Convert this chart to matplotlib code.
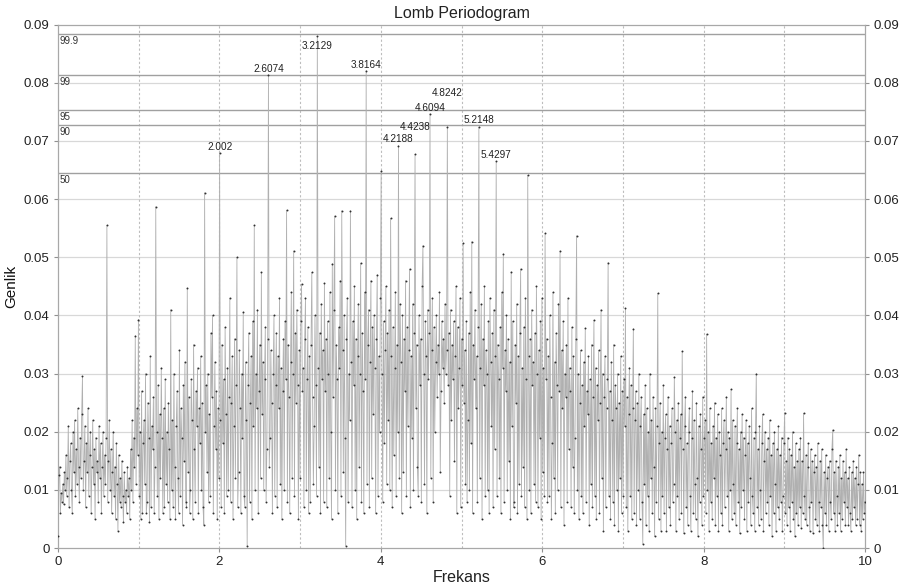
import numpy as np
import matplotlib
matplotlib.use('Agg')
import matplotlib.pyplot as plt

plt.rcParams['font.family'] = ['Liberation Sans', 'DejaVu Sans']

# Lomb periodogram amplitudes (x 1e-3), one value per frequency step of 1/102.4
amp_milli = [
    2, 12.5, 14, 6, 9.5, 8, 11, 7.5, 13, 10,
    16, 9, 12, 21, 7, 15, 18, 10, 6, 20,
    13, 22, 9, 17, 11, 24, 14, 8, 19, 12,
    23, 29.5, 10, 15, 21, 7, 18, 13, 24, 9,
    16, 20, 6, 14, 22, 11, 17, 5, 19, 13,
    15, 8, 21, 12, 18, 6, 14, 20, 9, 16,
    11, 19, 55.5, 8, 15, 22, 10, 17, 6, 13,
    20, 9, 14, 5, 18, 11, 3, 16, 8, 12,
    7, 15, 9, 4.5, 13, 8, 10, 6, 14, 9,
    12, 5, 17, 10, 22, 8, 19, 14, 36.5, 11,
    24, 16, 39.3, 9, 20, 5, 27, 6, 18, 22,
    11, 30, 6, 8, 25, 19, 4.5, 33, 7, 21,
    17, 26, 6, 14, 58.7, 20, 9, 28, 5, 23,
    12, 31, 19, 6, 24, 7, 29, 11, 20, 8,
    25, 17, 5, 41, 10, 22, 7, 30, 14, 5,
    21, 27, 12, 6, 34, 9, 24, 19, 4, 28,
    15, 32, 8, 7, 44.7, 13, 26, 6, 10, 29,
    22, 5, 35, 17, 8, 27, 21, 31, 6, 24,
    18, 33, 10, 25, 7, 4, 61.1, 20, 28, 13,
    30, 8, 23, 9, 37, 26, 40, 6, 21, 32,
    17, 27, 5, 24, 12, 68.0, 22, 7, 35, 18,
    29, 6, 38, 23, 9, 31, 10, 26, 43, 8,
    25, 33, 5, 21, 36, 12, 28, 50, 7, 13,
    34, 24, 6, 30, 19, 40.6, 9, 7, 32, 22,
    0.4, 28, 37, 8, 25, 33, 5, 39, 21, 55.5,
    10, 30, 24, 41, 6, 27, 35, 12, 47.4, 23,
    32, 10, 29, 38, 8, 17, 36, 81.4, 14, 19,
    34, 25, 6, 30, 40, 9, 28, 37, 7, 33,
    24, 43, 11, 31, 5, 27, 36, 10, 39, 29,
    58.1, 8, 35, 26, 6, 32, 44, 12, 30, 51.1,
    9, 37, 25, 41, 28, 5, 34, 12, 39, 45.4,
    27, 31, 7, 36, 43, 10, 29, 38, 6, 33,
    8, 35, 47.4, 26, 11, 21, 40, 28, 9, 88.0,
    31, 14, 37, 6, 42, 29, 34, 8, 45.5, 27,
    36, 7, 39, 30, 12, 44, 20, 5, 48.9, 26,
    41, 57.1, 10, 35, 29, 6, 38, 31, 46, 9,
    58, 34, 13, 40, 19, 0.4, 36, 43, 8, 30,
    22, 58, 32, 7, 39, 28, 45, 10, 36, 5,
    33, 42, 14, 30, 49, 8, 37, 27, 6, 44,
    29, 82.1, 11, 35, 41, 7, 32, 46, 12, 38,
    23, 40, 31, 6, 36, 47, 9, 33, 20, 43,
    64.8, 30, 8, 39, 18, 34, 45, 11, 37, 22,
    41, 10, 56.7, 33, 7, 38, 16, 31, 44, 9,
    35, 20, 69.2, 12, 42, 32, 6, 40, 13, 36,
    27, 46, 9, 38, 21, 34, 48, 7, 33, 19,
    42, 10, 37, 67.7, 24, 35, 14, 9, 40, 28,
    36, 8, 45, 52, 30, 11, 39, 33, 6, 41,
    29, 37, 74.7, 12, 34, 43, 8, 38, 20, 32,
    40, 26, 35, 30, 44, 13, 27, 39, 31, 36,
    25, 42, 30, 34, 72.4, 28, 37, 9, 41, 22,
    35, 29, 39, 15, 33, 45, 6, 38, 24, 31,
    43, 7, 36, 28, 52.4, 25, 34, 11, 39, 8,
    22, 37, 10, 44, 18, 52.7, 6, 35, 29, 41,
    24, 33, 8, 38, 72.4, 12, 31, 42, 5, 36,
    28, 45, 9, 34, 30, 10, 39, 6, 43, 32,
    21, 37, 7, 41, 17, 33, 66.5, 9, 35, 29,
    12, 38, 6, 44, 31, 50.6, 8, 34, 27, 40,
    10, 36, 15, 32, 5, 47.5, 21, 39, 7, 8,
    35, 25, 42, 6, 33, 11, 37, 48, 9, 31,
    14, 38, 7, 43, 29, 5, 64.1, 33, 10, 36,
    6, 41, 28, 32, 11, 37, 8, 45, 30, 7,
    34, 19, 39, 5, 43, 13, 31, 9, 54.1, 29,
    36, 8, 33, 9, 40, 26, 5, 18, 44, 12,
    32, 6, 37, 28, 10, 42, 27, 51.1, 7, 34,
    24, 39, 4, 30, 26, 35, 8, 43, 17, 31,
    27, 7, 38, 14, 33, 6, 19, 36, 53.7, 10,
    30, 5, 25, 34, 9, 28, 6, 32, 21, 37.8,
    8, 27, 23, 33, 4, 29, 11, 35, 7, 26,
    39.2, 9, 31, 5, 28, 22, 34, 6, 25, 41,
    12, 30, 3, 26, 33, 7, 24, 29, 49.1, 9,
    27, 5, 32, 22, 8, 35, 4, 28, 24, 10,
    30, 3, 25, 12, 33, 6, 27, 9, 29, 21,
    41.2, 7, 26, 3, 23, 31, 9, 28, 5, 24,
    37.7, 6, 22, 27, 4, 25, 10, 30, 5, 21,
    26, 8, 0.7, 23, 11, 28, 4, 24, 9, 20,
    3, 30, 12, 22, 6, 26, 14, 2, 24, 8,
    21, 43.8, 5, 18, 25, 3, 20, 9, 28, 6,
    19, 23, 3, 17, 26, 7, 21, 4, 18, 24,
    8, 11, 29.4, 20, 3, 22, 9, 25, 5, 19,
    23, 6, 33.8, 17, 2.5, 21, 26, 7, 18, 4,
    20, 24, 9, 3, 19, 27, 6, 22, 11, 5,
    25, 12, 2, 21, 8, 23, 17, 4, 26, 9,
    19, 22, 6, 36.8, 10, 20, 3, 24, 8, 18,
    5, 21, 12, 25, 4, 19, 9, 23, 3, 20,
    16, 6, 24, 4, 18, 22, 7, 17, 26, 9,
    20, 3, 19, 10, 27.3, 5, 22, 11, 6, 21,
    4, 18, 24, 8, 17, 2.5, 20, 7, 23, 10,
    19, 5, 16, 22, 3, 18, 8, 21, 12, 4,
    24, 9, 6, 19, 3, 20, 30, 7, 17, 4,
    21, 10, 5, 18, 23, 3, 15, 20, 6, 17,
    8, 19, 4, 22, 9, 16, 2, 18, 6, 20,
    11, 3, 17, 7, 21, 5, 16, 8, 19, 3,
    9, 18, 23.3, 6, 15, 4, 19, 7, 17, 3,
    16, 8, 20, 5, 14, 2, 18, 6, 15, 4,
    17, 7, 19, 3.5, 15, 6, 23.2, 9, 5, 16,
    4, 14, 18, 7, 3, 17, 8, 15, 2.5, 13,
    16, 5, 14, 4, 18, 8, 3, 15, 7, 17,
    4, 0, 13, 6, 16, 4, 12, 14, 3, 15,
    8, 5, 17, 20.3, 6, 13, 3, 15, 9, 4,
    14, 6, 16, 3, 12, 5, 15, 8, 13, 4,
    17, 7, 12, 4, 14, 6, 3, 13, 5, 15,
    7, 12, 4, 14, 5, 11, 16, 4, 13, 3,
    11, 5, 13, 6, 8,
]

# significance levels (%) and their amplitude thresholds
sig_labels = ['99.9', '99', '95', '90', '50']
sig_levels = [0.08846, 0.0814, 0.07535, 0.07278, 0.06454]

# labelled peaks
peak_text = ['2.002', '2.6074', '3.2129', '3.8164', '4.2188', '4.4238',
             '4.6094', '4.8242', '5.2148', '5.4297']
peak_freq = [2.002, 2.6074, 3.2129, 3.8164, 4.2188, 4.4238,
             4.6094, 4.8242, 5.2148, 5.4297]
# where the label text sits (label centre, amplitude units)
label_y = [0.06895, 0.08233, 0.08633, 0.08314, 0.07033, 0.07238,
           0.07564, 0.07821, 0.07358, 0.06752]

amp = np.array(amp_milli) / 1000.0
freq = np.arange(len(amp)) / 102.4

fig = plt.figure(figsize=(9.04, 5.84), dpi=100)
ax = fig.add_axes([0.0642, 0.0616, 0.8927, 0.8961])

# grid
for yv in np.arange(0.01, 0.0801, 0.01):
    ax.axhline(yv, color='#d8d8d8', lw=0.9, zorder=0)
for xv in range(1, 10):
    ax.axvline(xv, color='#bdbdbd', lw=0.8, ls=(0, (2, 2)), zorder=0)

# significance lines
for lab, lev in zip(sig_labels, sig_levels):
    ax.axhline(lev, color='#a0a0a0', lw=1.0, zorder=1)
    ax.text(0.02, lev - 0.0004, lab, fontsize=7, va='top', ha='left', color='#333333')

ax.plot(freq, amp, color='#b0b0b0', lw=0.6, zorder=2)
ax.plot(freq, amp, ls='none', marker='o', ms=1.4, mew=0, color='#303030', zorder=3)

for t, f, ly in zip(peak_text, peak_freq, label_y):
    ax.text(f, ly, t, fontsize=7.2, ha='center', va='center', color='#222222', zorder=4)

ax.set_xlim(0, 10)
ax.set_ylim(0, 0.09)
ax.set_xticks([0, 2, 4, 6, 8, 10])
ax.set_xticklabels(['0', '2', '4', '6', '8', '10'])
ax.set_yticks(np.arange(0, 0.0901, 0.01))
ax.set_yticklabels(['0', '0.01', '0.02', '0.03', '0.04', '0.05', '0.06', '0.07', '0.08', '0.09'])
ax.tick_params(labelsize=9.5, length=3, width=0.8, color='#909090', labelcolor='#222222',
               right=True, labelright=True, pad=3)

for s in ax.spines.values():
    s.set_color('#a8a8a8')
    s.set_linewidth(0.9)

ax.set_title('Lomb Periodogram', fontsize=11.5, pad=5, color='#222222')
ax.set_xlabel('Frekans', fontsize=11.5, labelpad=1, color='#222222')
ax.set_ylabel('Genlik', fontsize=11, labelpad=4, color='#111111')

fig.savefig('out.png', dpi=100)
